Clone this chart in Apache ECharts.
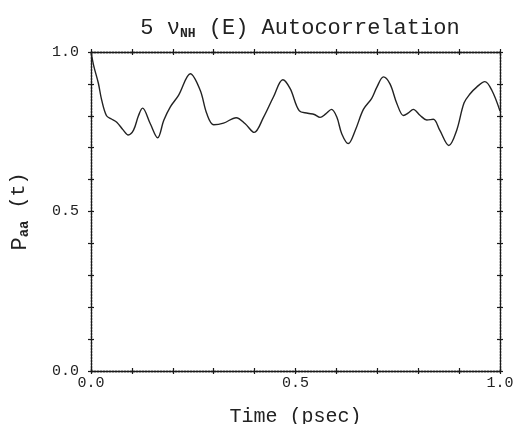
<!DOCTYPE html>
<html>
<head>
<meta charset="utf-8">
<script src="https://cdn.jsdelivr.net/npm/echarts@6/dist/echarts.min.js"></script>
<style>html,body{margin:0;padding:0;background:#fff;}#c{width:513px;height:424px;}</style>
</head>
<body>
<div id="c"></div>
<script>
var times = [0, 0.007, 0.018, 0.026, 0.038, 0.05, 0.063, 0.079, 0.091, 0.104, 0.116, 0.126, 0.145, 0.163, 0.178, 0.194, 0.214, 0.243, 0.267, 0.283, 0.30, 0.324, 0.355, 0.377, 0.399, 0.422, 0.446, 0.469, 0.487, 0.509, 0.530, 0.546, 0.560, 0.574, 0.588, 0.601, 0.613, 0.629, 0.646, 0.666, 0.686, 0.699, 0.715, 0.731, 0.748, 0.764, 0.776, 0.788, 0.805, 0.821, 0.837, 0.853, 0.875, 0.894, 0.912, 0.927, 0.943, 0.963, 0.980, 1.0];
var values = [1.0, 0.955, 0.902, 0.85, 0.80, 0.79, 0.78, 0.755, 0.74, 0.755, 0.80, 0.824, 0.775, 0.731, 0.786, 0.828, 0.864, 0.932, 0.88, 0.807, 0.772, 0.777, 0.794, 0.775, 0.748, 0.796, 0.859, 0.913, 0.885, 0.816, 0.808, 0.804, 0.795, 0.806, 0.82, 0.796, 0.744, 0.713, 0.754, 0.82, 0.854, 0.89, 0.922, 0.90, 0.838, 0.801, 0.809, 0.82, 0.801, 0.787, 0.789, 0.754, 0.707, 0.754, 0.84, 0.869, 0.89, 0.907, 0.88, 0.815];
var xTickLabels = ['0.0', '0.5', '1.0'];
var yTickLabels = ['0.0', '0.5', '1.0'];

var data = times.map(function (t, i) { return [t, values[i]]; });
var FONT = '"Liberation Mono", "DejaVu Sans Mono", monospace';
var lineCol = '#1a1a1a';
function fmt(labels) {
  return function (v) {
    var k = Math.round(v * 2);
    if (Math.abs(v * 2 - k) < 1e-6) return labels[k];
    return '';
  };
}
function mkAxis(pos, inside, showLabel, labels, isX) {
  return {
    type: 'value', position: pos, min: 0, max: 1, interval: 0.1,
    axisLine: { show: true, onZero: false, lineStyle: { color: lineCol, width: 1.3, type: [2, 1] } },
    axisTick: { show: true, inside: inside, length: 3, lineStyle: { color: lineCol, width: 1.2 } },
    axisLabel: {
      show: showLabel, formatter: fmt(labels), fontFamily: FONT, fontSize: 15, color: '#222',
      margin: isX ? 5 : 12
    },
    splitLine: { show: false }
  };
}
var chart = echarts.init(document.getElementById('c'));
var xAxes = [mkAxis('bottom', false, true, xTickLabels, true), mkAxis('bottom', true, false, xTickLabels, true),
             mkAxis('top', false, false, xTickLabels, true), mkAxis('top', true, false, xTickLabels, true)];
xAxes[0].name = 'Time (psec)';
xAxes[0].nameLocation = 'middle';
xAxes[0].nameGap = 36;
xAxes[0].nameTextStyle = { fontFamily: FONT, fontSize: 20, color: '#222' };
var yAxes = [mkAxis('left', false, true, yTickLabels, false), mkAxis('left', true, false, yTickLabels, false),
             mkAxis('right', false, false, yTickLabels, false), mkAxis('right', true, false, yTickLabels, false)];
yAxes[0].name = '{p|P}{s|aa}{n| (t)}';
yAxes[0].nameLocation = 'middle';
yAxes[0].nameRotate = 90;
yAxes[0].nameGap = 60;
yAxes[0].nameTextStyle = {
  color: '#222',
  rich: {
    p: { fontFamily: FONT, fontSize: 22, color: '#222', verticalAlign: 'bottom' },
    s: { fontFamily: FONT, fontSize: 14, color: '#222', fontWeight: 'bold', padding: [10, 0, 0, 0] },
    n: { fontFamily: FONT, fontSize: 20, color: '#222' }
  }
};
chart.setOption({
  animation: false,
  backgroundColor: '#fff',
  title: {
    text: '{m|5 ν}{s|NH}{m| (E) Autocorrelation}',
    left: 295, top: 12, textAlign: 'center',
    textStyle: {
      fontWeight: 'normal',
      rich: {
        m: { fontFamily: FONT, fontSize: 22, fontWeight: 'normal', color: '#222' },
        s: { fontFamily: FONT, fontSize: 13, fontWeight: 'bold', color: '#222', padding: [10, 0, 0, 0] }
      }
    }
  },
  grid: { left: 91, right: 13, top: 52, bottom: 53, containLabel: false, outerBoundsMode: 'none' },
  xAxis: xAxes,
  yAxis: yAxes,
  series: [{
    type: 'line', data: data, smooth: 0.35, symbol: 'none', clip: true,
    xAxisIndex: 0, yAxisIndex: 0,
    lineStyle: { color: '#222', width: 1.4 }
  }]
});
</script>
</body>
</html>
